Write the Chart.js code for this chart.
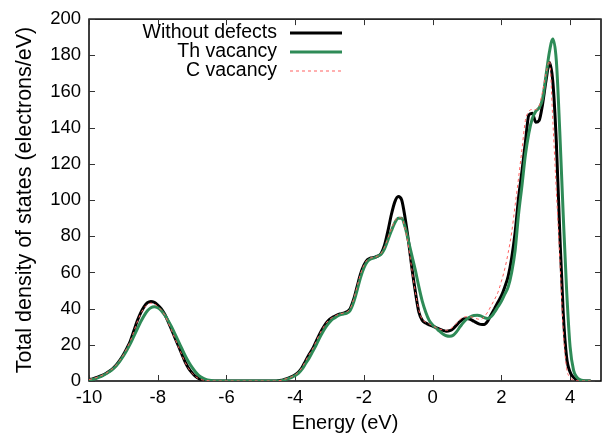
<!DOCTYPE html>
<html>
<head>
<meta charset="utf-8">
<script src="https://cdn.jsdelivr.net/npm/chart.js@4.4.1/dist/chart.umd.min.js"></script>
<style>
  html, body { margin: 0; padding: 0; background: #fff; }
  #wrap { width: 603px; height: 437px; position: relative; }
</style>
</head>
<body>
<div id="wrap"><canvas id="dos"></canvas></div>
<script>
// energy grid (eV)
const energies = [
  -10.0, -9.9, -9.8, -9.7, -9.6, -9.5, -9.4, -9.3, -9.2, -9.1,
  -9.0, -8.9, -8.8, -8.7, -8.6, -8.5, -8.4, -8.3, -8.2, -8.1,
  -8.0, -7.9, -7.8, -7.7, -7.6, -7.5, -7.4, -7.3, -7.2, -7.1,
  -7.0, -6.9, -6.8, -6.7, -6.6, -6.5, -6.4, -6.3, -6.2, -6.1,
  -6.0, -5.9, -5.8, -5.7, -5.6, -5.5, -5.4, -5.3, -5.2, -5.1,
  -5.0, -4.9, -4.8, -4.7, -4.6, -4.5, -4.4, -4.3, -4.2, -4.1,
  -4.0, -3.9, -3.8, -3.7, -3.6, -3.5, -3.4, -3.3, -3.2, -3.1,
  -3.0, -2.9, -2.8, -2.7, -2.6, -2.5, -2.4, -2.3, -2.2, -2.1,
  -2.0, -1.9, -1.8, -1.7, -1.6, -1.5, -1.4, -1.3, -1.2, -1.1,
  -1.0, -0.9, -0.8, -0.7, -0.6, -0.5, -0.4, -0.3, -0.2, -0.1,
  0.0, 0.1, 0.2, 0.3, 0.4, 0.5, 0.6, 0.7, 0.8, 0.9,
  1.0, 1.1, 1.2, 1.3, 1.4, 1.5, 1.6, 1.7, 1.8, 1.9,
  2.0, 2.1, 2.2, 2.3, 2.4, 2.5, 2.6, 2.7, 2.8, 2.9,
  3.0, 3.1, 3.2, 3.3, 3.4, 3.5, 3.6, 3.7, 3.8, 3.9,
  4.0, 4.1, 4.2, 4.3, 4.4, 4.5, 4.6
];

const withoutDefects = [
  0.8, 1.2, 1.8, 2.5, 3.3, 4.3, 5.5, 7.0, 9.0, 11.5,
  14.5, 18.0, 22.0, 27.5, 33.0, 37.5, 41.0, 43.3, 44.0, 43.5,
  42.0, 40.0, 37.0, 33.0, 28.5, 24.0, 19.5, 15.0, 10.5, 7.0,
  4.5, 2.5, 1.3, 0.6, 0.3, 0.1, 0, 0, 0, 0,
  0, 0, 0, 0, 0, 0, 0, 0, 0, 0,
  0, 0, 0, 0, 0, 0.1, 0.4, 1.0, 1.6, 2.4,
  3.4, 5.0, 7.5, 11.0, 14.5, 17.5, 21.5, 25.5, 29.0, 32.0,
  34.0, 35.3, 36.3, 37.0, 37.5, 38.2, 40.0, 45.0, 52.0, 59.0,
  64.0, 67.0, 68.0, 68.3, 69.0, 70.5, 75.0, 83.0, 92.0, 99.0,
  102.0, 100.0, 90.0, 77.0, 62.0, 49.0, 38.0, 33.5, 32.0, 31.0,
  30.3, 29.5, 28.7, 28.0, 27.5, 27.8, 29.0, 31.0, 33.0, 34.3,
  34.5, 34.0, 33.0, 32.0, 31.3, 31.2, 33.0, 36.5, 40.0, 43.5,
  47.0, 52.0, 58.0, 68.0, 82.0, 101.0, 116.0, 132.0, 147.0, 148.0,
  143.0, 144.0, 153.0, 166.0, 176.0, 165.0, 132.0, 82.0, 38.0, 13.0,
  5.0, 2.0, 0.7, 0.2, 0, 0, 0
];

const thVacancy = [
  0.5, 0.9, 1.4, 2.1, 3.0, 4.0, 5.2, 6.7, 8.6, 11.0,
  13.8, 17.0, 20.5, 24.5, 28.5, 32.5, 36.0, 38.8, 40.5, 41.0,
  40.5, 39.0, 36.5, 33.5, 30.0, 26.0, 22.0, 18.0, 14.0, 10.5,
  7.5, 5.0, 3.0, 1.7, 0.9, 0.4, 0.1, 0, 0, 0,
  0, 0, 0, 0, 0, 0, 0, 0, 0, 0,
  0, 0, 0, 0, 0, 0, 0.2, 0.7, 1.3, 2.0,
  3.0, 4.3, 6.5, 9.5, 12.5, 16.0, 19.5, 23.5, 27.0, 30.0,
  32.5, 34.3, 35.5, 36.5, 37.0, 37.5, 39.0, 43.5, 50.0, 57.0,
  62.5, 66.0, 67.5, 68.0, 69.0, 70.0, 73.0, 78.0, 83.0, 87.5,
  90.0, 90.0, 85.0, 77.0, 69.0, 61.0, 52.0, 44.0, 38.0, 33.5,
  31.0, 29.3, 27.5, 26.0, 25.0, 24.7, 25.3, 27.3, 30.0, 32.5,
  34.3, 35.5, 36.2, 36.3, 36.0, 35.0, 34.5, 35.5, 38.0, 41.0,
  44.0, 48.0, 52.0, 60.0, 72.0, 92.0, 108.0, 125.0, 137.0, 145.0,
  149.0, 151.0, 156.0, 169.0, 182.0, 189.0, 177.0, 138.0, 92.0, 50.0,
  19.0, 6.0, 2.0, 0.6, 0.2, 0, 0
];

const cVacancy = [
  0.8, 1.2, 1.8, 2.5, 3.3, 4.3, 5.5, 7.0, 9.0, 11.5,
  14.5, 18.0, 22.0, 27.0, 32.5, 37.0, 40.3, 42.3, 43.0, 42.6,
  41.2, 39.3, 36.5, 32.5, 28.0, 23.5, 19.0, 14.5, 10.2, 6.8,
  4.3, 2.4, 1.2, 0.6, 0.3, 0.1, 0, 0, 0, 0,
  0, 0, 0, 0, 0, 0, 0, 0, 0, 0,
  0, 0, 0, 0, 0, 0.1, 0.4, 1.0, 1.6, 2.4,
  3.4, 5.0, 7.5, 11.0, 14.5, 17.5, 21.5, 25.5, 29.0, 32.0,
  34.0, 35.3, 36.3, 37.0, 37.5, 38.2, 40.0, 45.0, 52.0, 59.0,
  64.0, 67.0, 68.0, 68.3, 69.0, 70.5, 74.0, 79.0, 84.0, 88.5,
  90.5, 90.0, 84.0, 74.0, 61.0, 49.0, 39.0, 34.0, 32.5, 31.5,
  30.5, 29.5, 28.7, 28.2, 28.0, 28.5, 30.0, 32.0, 34.0, 35.3,
  35.5, 35.5, 35.0, 34.3, 34.0, 35.5, 38.0, 41.5, 45.0, 49.0,
  55.0, 62.0, 71.0, 82.0, 97.0, 112.0, 128.0, 144.0, 149.0, 150.0,
  150.0, 152.0, 160.0, 170.0, 177.0, 143.0, 105.0, 68.0, 28.0, 7.0,
  2.0, 0.5, 0.1, 0, 0, 0, 0
];

const seriesNames = ["Without defects", "Th vacancy", "C vacancy"];
const xTicks = [-10, -8, -6, -4, -2, 0, 2, 4];
const yTicks = [0, 20, 40, 60, 80, 100, 120, 140, 160, 180, 200];

const FONT = "'Liberation Sans', Arial, Helvetica, sans-serif";
const colors = ["#000000", "#2e8b57", "#ff6060"];

// gnuplot style frame with inward ticks on all four sides
const framePlugin = {
  id: "frame",
  beforeDatasetsDraw(chart) {
    const { ctx, chartArea: a, scales } = chart;
    ctx.save();
    ctx.strokeStyle = "#000";
    ctx.lineWidth = 1.5;
    ctx.strokeRect(a.left, a.top, a.right - a.left, a.bottom - a.top);
    ctx.lineWidth = 1;
    ctx.strokeStyle = "#333";
    const len = 6;
    ctx.beginPath();
    xTicks.forEach(v => {
      const px = Math.round(scales.x.getPixelForValue(v)) + 0.5;
      ctx.moveTo(px, a.bottom); ctx.lineTo(px, a.bottom - len);
      ctx.moveTo(px, a.top); ctx.lineTo(px, a.top + len);
    });
    yTicks.forEach(v => {
      const py = Math.round(scales.y.getPixelForValue(v)) + 0.5;
      ctx.moveTo(a.left, py); ctx.lineTo(a.left + len, py);
      ctx.moveTo(a.right, py); ctx.lineTo(a.right - len, py);
    });
    ctx.stroke();
    ctx.restore();
  },
  afterDatasetsDraw(chart) {
    // legend: right aligned text, sample line to the right
    const { ctx } = chart;
    const textRight = 277, x0 = 290, x1 = 342;
    const rows = [33, 52, 71];
    ctx.save();
    ctx.font = "19.5px " + FONT;
    ctx.fillStyle = "#000";
    ctx.textAlign = "right";
    ctx.textBaseline = "middle";
    seriesNames.forEach((name, i) => {
      ctx.fillText(name, textRight, rows[i]);
      ctx.beginPath();
      ctx.strokeStyle = colors[i];
      ctx.lineWidth = i === 2 ? 1 : 3;
      ctx.setLineDash(i === 2 ? [3, 3] : []);
      ctx.moveTo(x0, rows[i]);
      ctx.lineTo(x1, rows[i]);
      ctx.stroke();
    });
    ctx.restore();
  }
};

new Chart(document.getElementById("dos"), {
  type: "line",
  data: {
    labels: energies,
    datasets: [
      { label: seriesNames[0], data: withoutDefects, borderColor: colors[0], borderWidth: 3, order: 3 },
      { label: seriesNames[1], data: thVacancy, borderColor: colors[1], borderWidth: 3, order: 2 },
      { label: seriesNames[2], data: cVacancy, borderColor: colors[2], borderWidth: 1, borderDash: [3, 3], order: 1 }
    ]
  },
  options: {
    responsive: true,
    maintainAspectRatio: false,
    animation: false,
    layout: { padding: { left: 0, right: 2, top: 18, bottom: 0 } },
    elements: {
      point: { radius: 0 },
      line: { cubicInterpolationMode: "monotone", fill: false }
    },
    plugins: { legend: { display: false }, tooltip: { enabled: false } },
    scales: {
      x: {
        type: "linear",
        min: -10,
        max: 4.9,
        grid: { display: false, drawTicks: false },
        border: { display: false },
        afterBuildTicks: s => { s.ticks = xTicks.map(v => ({ value: v })); },
        afterFit: s => { s.height = 56; },
        ticks: { color: "#000", font: { family: FONT, size: 18.5 }, padding: 6, maxRotation: 0 },
        title: { display: true, text: "Energy (eV)", color: "#000", font: { family: FONT, size: 20 }, padding: { top: 0, bottom: 2 } }
      },
      y: {
        min: 0,
        max: 200,
        grid: { display: false, drawTicks: false },
        border: { display: false },
        afterBuildTicks: s => { s.ticks = yTicks.map(v => ({ value: v })); },
        afterFit: s => { s.width = 89; },
        ticks: { color: "#000", font: { family: FONT, size: 18.5 }, padding: 8 },
        title: { display: true, text: "Total density of states (electrons/eV)", color: "#000", font: { family: FONT, size: 21.5 }, padding: { top: 12, bottom: 0 } }
      }
    }
  },
  plugins: [framePlugin]
});
</script>
</body>
</html>
